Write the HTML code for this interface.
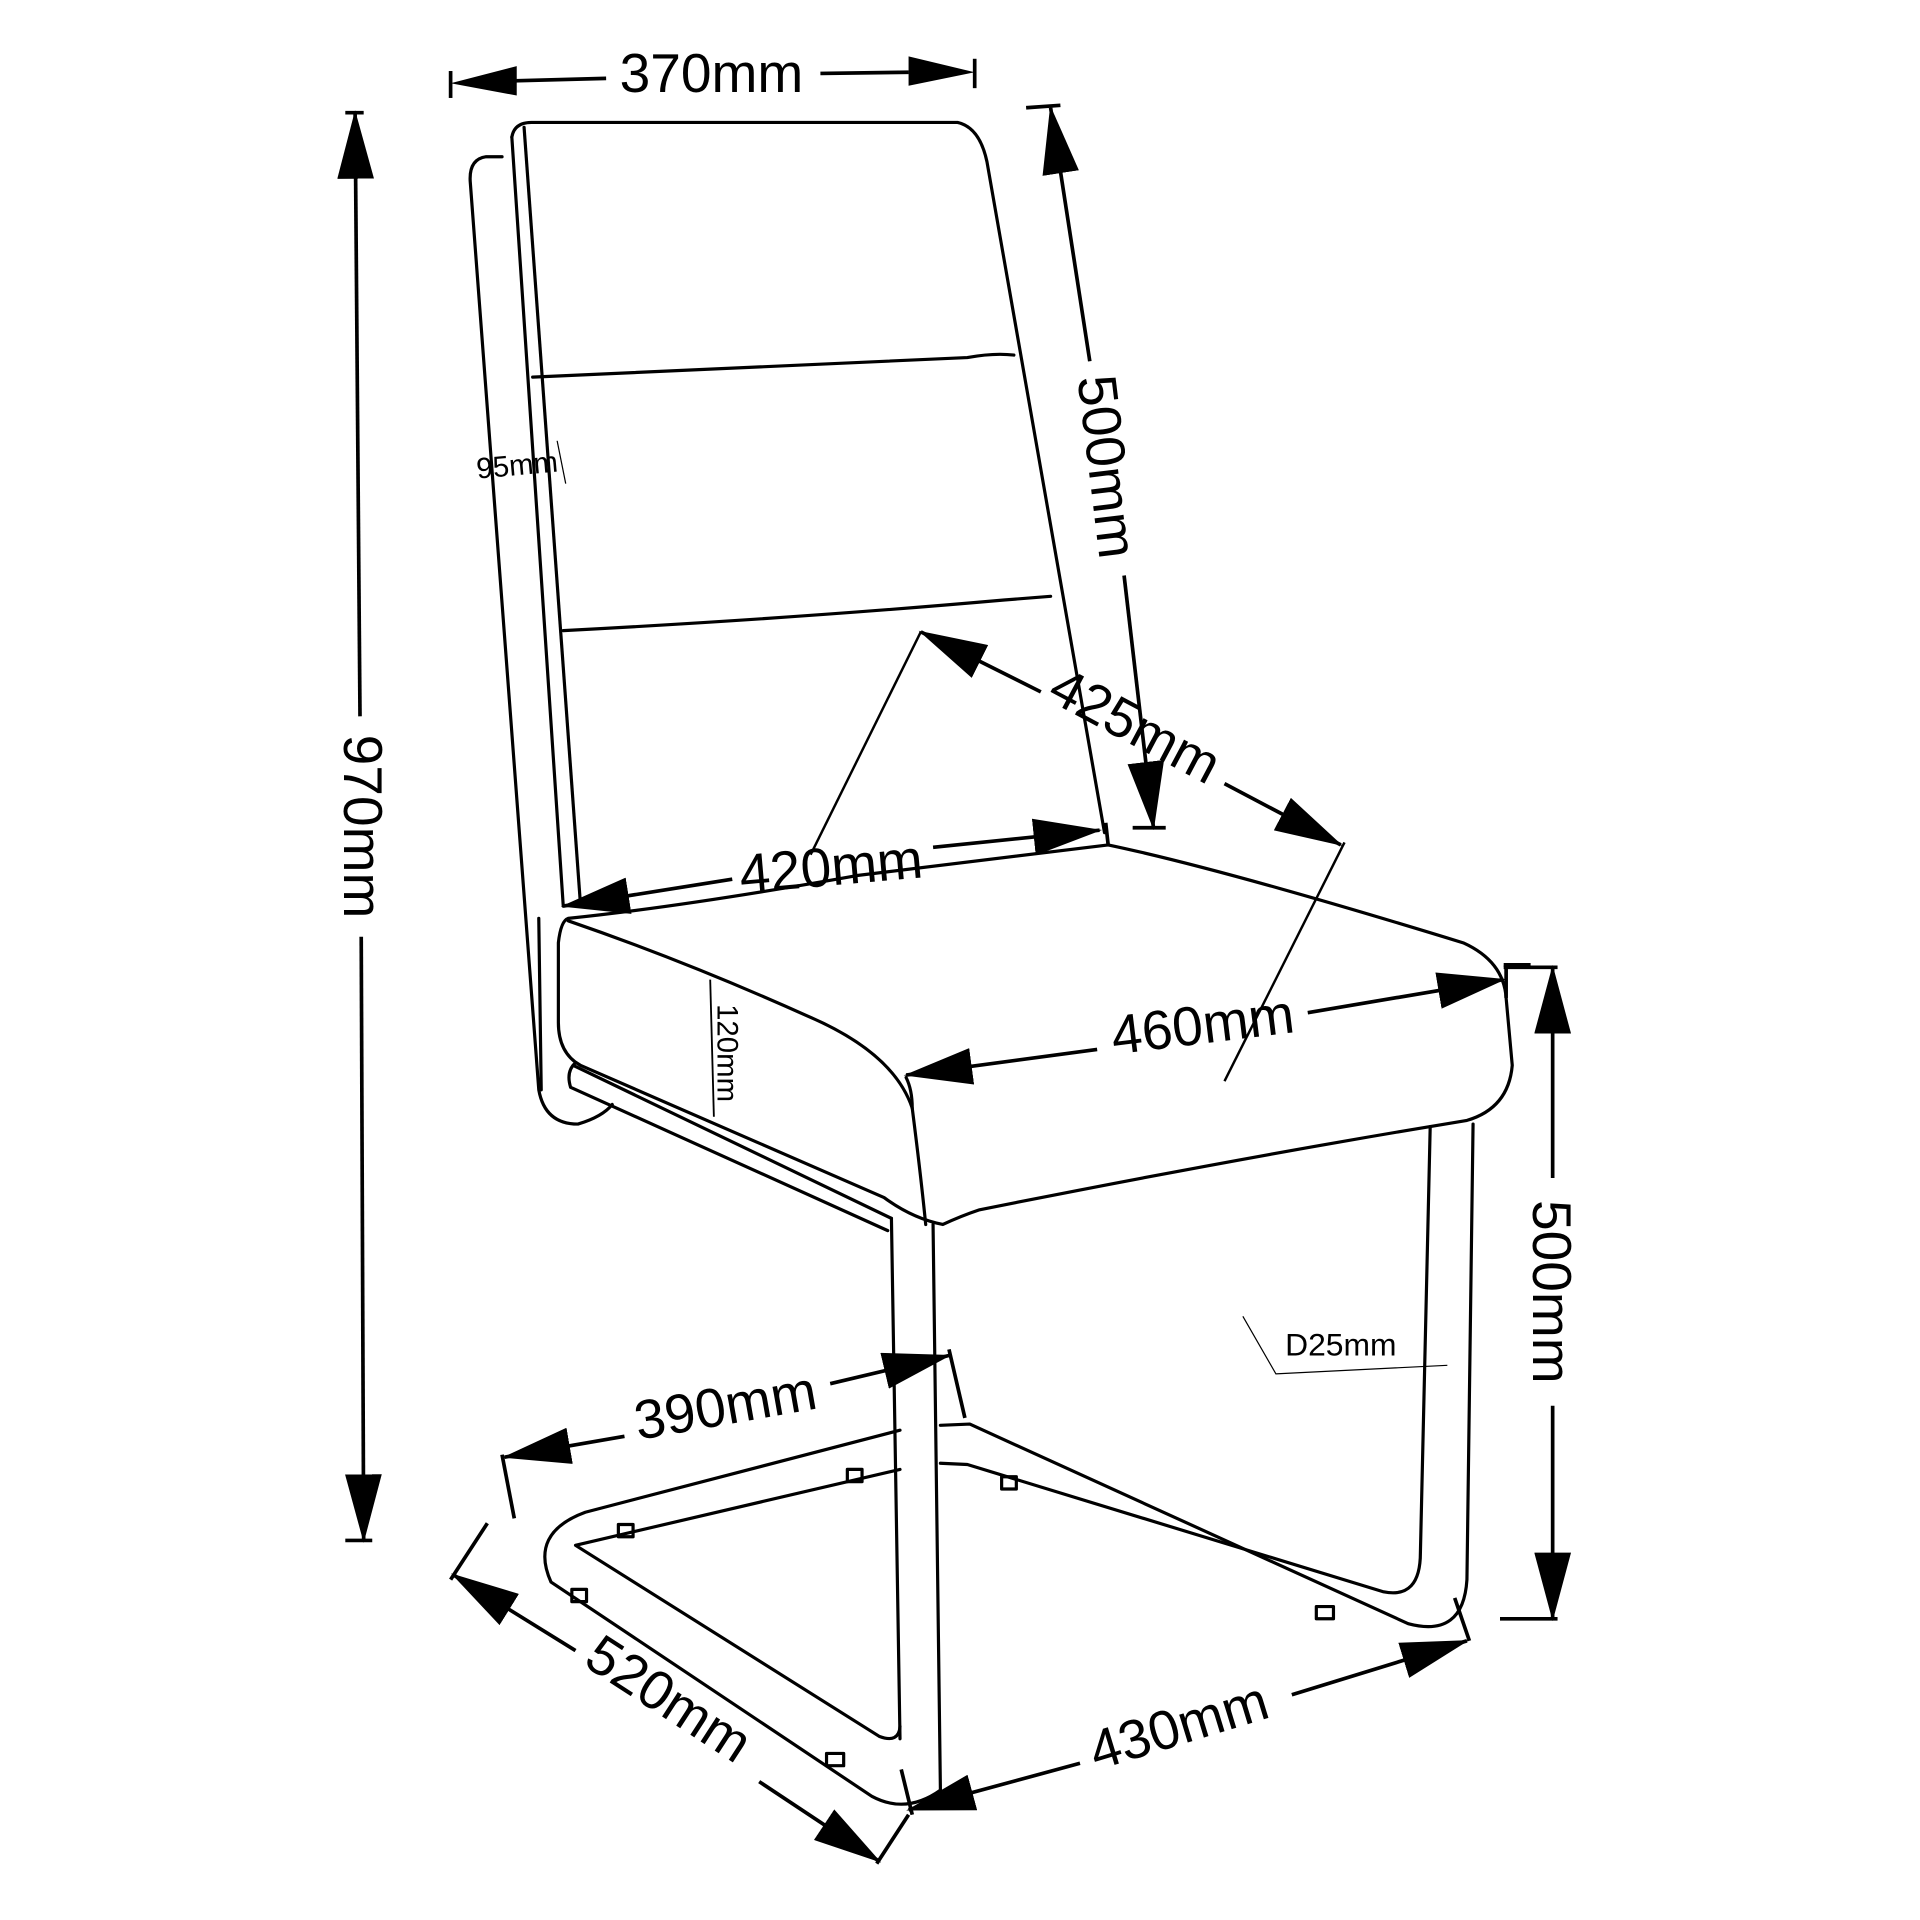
<!DOCTYPE html>
<html><head><style>html,body{margin:0;padding:0;background:#fff}svg{display:block}</style></head><body>
<svg width="1920" height="1920" viewBox="0 0 1568 1568" xmlns="http://www.w3.org/2000/svg">
<defs>
<marker id="a" markerUnits="userSpaceOnUse" markerWidth="56" markerHeight="30" refX="54" refY="15" orient="auto"><path d="M0,0 L56,15 L0,30 Z" fill="#000"/></marker>
<marker id="s" markerUnits="userSpaceOnUse" markerWidth="56" markerHeight="30" refX="2" refY="15" orient="auto"><path d="M56,0 L0,15 L56,30 Z" fill="#000"/></marker>
</defs>
<g fill="none" stroke="#000" stroke-width="2.6" stroke-linejoin="round" stroke-linecap="round">
<path d="M410,128 L397,128 Q383,130 384,148 L440,890 Q445,918 472,918 Q492,912 500,902"/>
<path d="M418,112 Q420,100 434,100 L782,100 Q800,104 806,132 L902,680"/>
<path d="M418,112 L460,740"/>
<path d="M428,104 L474,738"/>
<path d="M435,308 Q600,300 790,292 Q812,288 828,290"/>
<path d="M460,515 Q650,505 820,490 L858,487"/>
<path d="M440,750 L442,890"/>
<path d="M464,750 Q560,740 700,715 L905,690 Q1000,710 1195,770 Q1228,785 1230,815 L1235,870 Q1232,905 1198,915 L1168,920 Q1000,948 800,988 Q785,993 770,1000 Q745,995 722,978 L474,870 Q456,860 456,835 L456,770 Q458,752 464,750 Z"/>
<path d="M464,752 Q560,785 660,830 Q730,860 745,905 Q752,960 756,1000"/>
<path d="M740,880 Q745,890 745,905"/>
<path d="M468,870 L728,995"/>
<path d="M470,868 Q462,875 466,888 L725,1005"/>
<path d="M728,995 L735,1420"/>
<path d="M762,1000 L768,1462"/>
<path d="M735,1168 L478,1235 Q432,1252 450,1292 L712,1467 Q740,1482 768,1462"/>
<path d="M735,1200 L470,1262 L718,1418 Q734,1424 735,1410"/>
<path d="M768,1164 L792,1163 L1150,1326 Q1195,1338 1198,1290 L1203,918"/>
<path d="M768,1195 L790,1196 L1130,1300 Q1160,1306 1160,1268 L1168,920"/>
<rect x="505" y="1245" width="12" height="10"/><rect x="692" y="1200" width="12" height="10"/><rect x="818" y="1206" width="12" height="10"/><rect x="467" y="1298" width="12" height="10"/><rect x="1075" y="1312" width="14" height="10"/><rect x="675" y="1432" width="14" height="10"/>
</g>
<g stroke="#000" stroke-width="3" fill="none">
<line x1="368" y1="58" x2="368" y2="80"/><line x1="796" y1="48" x2="796" y2="72"/>
<line x1="420" y1="66" x2="495" y2="64" /><line x1="670" y1="60" x2="742" y2="59"/>
<path d="M368,68 L422,54 L422,78 Z M796,59 L742,46 L742,70 Z" fill="#000" stroke="none"/>
<line x1="282" y1="92" x2="297" y2="92"/><line x1="282" y1="1258" x2="304" y2="1258"/>
<line x1="290" y1="92" x2="294" y2="585" marker-start="url(#s)"/><line x1="295" y1="765" x2="297" y2="1258" marker-end="url(#a)"/>
<line x1="838" y1="88" x2="866" y2="86"/><line x1="925" y1="676" x2="952" y2="676"/>
<line x1="858" y1="88" x2="890" y2="295" marker-start="url(#s)"/><line x1="918" y1="470" x2="942" y2="676" marker-end="url(#a)"/>
<line x1="752" y1="516" x2="850" y2="565" marker-start="url(#s)"/><line x1="1000" y1="640" x2="1095" y2="690" marker-end="url(#a)"/>
<line x1="752" y1="516" x2="662" y2="698" stroke-width="2"/><line x1="1098" y1="688" x2="1000" y2="883" stroke-width="2"/>
<line x1="460" y1="740" x2="598" y2="718" marker-start="url(#s)"/><line x1="762" y1="692" x2="898" y2="678" marker-end="url(#a)"/>
<line x1="903" y1="672" x2="905" y2="690"/>
<line x1="740" y1="878" x2="896" y2="857" marker-start="url(#s)"/><line x1="1068" y1="827" x2="1228" y2="800" marker-end="url(#a)"/>
<line x1="1228" y1="788" x2="1250" y2="788"/><line x1="1230" y1="790" x2="1230" y2="815"/>
<line x1="1228" y1="790" x2="1272" y2="790"/><line x1="1225" y1="1322" x2="1272" y2="1322"/>
<line x1="1268" y1="790" x2="1268" y2="962" marker-start="url(#s)"/><line x1="1268" y1="1148" x2="1268" y2="1322" marker-end="url(#a)"/>
<line x1="412" y1="1190" x2="510" y2="1173" marker-start="url(#s)"/><line x1="678" y1="1130" x2="775" y2="1107" marker-end="url(#a)"/>
<line x1="410" y1="1188" x2="420" y2="1240"/><line x1="775" y1="1102" x2="788" y2="1158"/>
<line x1="370" y1="1286" x2="470" y2="1348" marker-start="url(#s)"/><line x1="620" y1="1455" x2="718" y2="1520" marker-end="url(#a)"/>
<line x1="398" y1="1244" x2="368" y2="1290"/><line x1="742" y1="1482" x2="716" y2="1522"/>
<line x1="742" y1="1478" x2="882" y2="1440" marker-start="url(#s)"/><line x1="1055" y1="1384" x2="1198" y2="1340" marker-end="url(#a)"/>
<line x1="736" y1="1445" x2="745" y2="1482"/><line x1="1188" y1="1305" x2="1200" y2="1340"/>
<line x1="580" y1="800" x2="583" y2="912" stroke-width="1.5"/>
<path d="M1015,1075 L1042,1122 L1182,1115" stroke-width="1"/>
<line x1="455" y1="360" x2="462" y2="395" stroke-width="1"/>
</g>
<g font-family="Liberation Sans, sans-serif" fill="#000" text-anchor="middle">
<text x="581" y="75" font-size="45">370mm</text>
<text transform="translate(281,675) rotate(90)" font-size="45">970mm</text>
<text transform="translate(889,383) rotate(83)" font-size="45">500mm</text>
<text transform="translate(920,606) rotate(28)" font-size="45">425mm</text>
<text transform="translate(680,723) rotate(-5)" font-size="45">420mm</text>
<text transform="translate(984,852) rotate(-7)" font-size="45">460mm</text>
<text transform="translate(1252,1055) rotate(90)" font-size="45">500mm</text>
<text transform="translate(595,1163) rotate(-10)" font-size="45">390mm</text>
<text transform="translate(538,1400) rotate(33)" font-size="45">520mm</text>
<text transform="translate(967,1424) rotate(-17)" font-size="45">430mm</text>
<text transform="translate(423,388) rotate(-5)" font-size="24">95mm</text>
<text transform="translate(586,860) rotate(90)" font-size="24">120mm</text>
<text x="1095" y="1107" font-size="26">D25mm</text>
</g>
</svg>
</body></html>
